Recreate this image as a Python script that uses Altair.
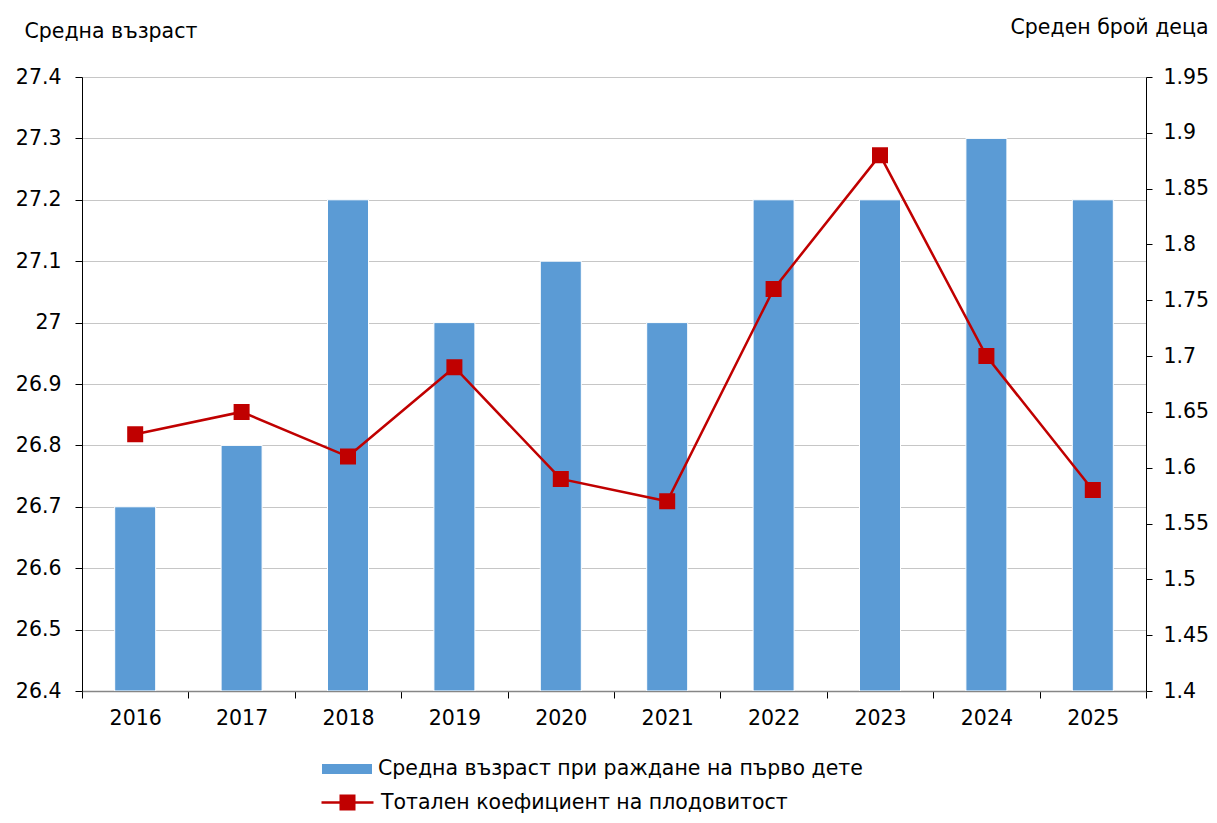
import altair as alt
import pandas as pd

years = ["2016", "2017", "2018", "2019", "2020", "2021", "2022", "2023", "2024", "2025"]
age = [26.7, 26.8, 27.2, 27.0, 27.1, 27.0, 27.2, 27.2, 27.3, 27.2]
tfr = [1.63, 1.65, 1.61, 1.69, 1.59, 1.57, 1.76, 1.88, 1.70, 1.58]
age_ticks = [26.4, 26.5, 26.6, 26.7, 26.8, 26.9, 27.0, 27.1, 27.2, 27.3, 27.4]
tfr_ticks = [1.4, 1.45, 1.5, 1.55, 1.6, 1.65, 1.7, 1.75, 1.8, 1.85, 1.9, 1.95]
series_age = "Средна възраст при раждане на първо дете"
series_tfr = "Тотален коефициент на плодовитост"
title_left = "Средна възраст"
title_right = "Среден брой деца"

df = pd.DataFrame({"year": years, "age": age, "tfr": tfr,
                   "s_age": series_age, "s_tfr": series_tfr})

FONT = "DejaVu Sans"
BLUE = "#5B9BD5"
RED = "#C00000"
FS = 20.5

base = alt.Chart(df).encode(
    x=alt.X("year:O", title=None,
            scale=alt.Scale(paddingInner=0, paddingOuter=0),
            axis=alt.Axis(labelAngle=0, tickBand="extent", labelFontSize=FS,
                          labelColor="black", labelPadding=10, tickSize=7,
                          tickColor="black", domainColor="#868686",
                          domainWidth=1.5, grid=False))
)

bars = base.mark_bar(size=41, stroke="white", strokeWidth=1, clip=True).encode(
    y=alt.Y("age:Q",
            scale=alt.Scale(domain=[26.4, 27.4], zero=False, nice=False),
            axis=alt.Axis(values=age_ticks, format="~g", title=title_left,
                          titleAngle=0, titleAlign="left", titleBaseline="middle",
                          titleX=-58, titleY=-46, titleFontSize=FS,
                          titleFontWeight="normal", titleColor="black",
                          labelFontSize=FS, labelColor="black", labelPadding=14,
                          tickSize=7, tickColor="black", domainColor="black",
                          grid=True, gridColor="#C6C6C6", gridWidth=1)),
    y2=alt.Y2(datum=26.4),
    fill=alt.Fill("s_age:N", scale=alt.Scale(range=[BLUE]),
                  legend=alt.Legend(title=None, orient="none", legendX=240, legendY=667,
                                    symbolType="M-1,-0.2H1V0.2H-1Z", symbolSize=2500,
                                    symbolStrokeWidth=0, labelFontSize=FS,
                                    labelColor="black", labelOffset=6, labelLimit=800)),
)

line = base.mark_line(
    color=RED, strokeWidth=2.5,
    point=alt.OverlayMarkDef(shape="square", size=196, filled=True, color=RED),
).encode(
    y=alt.Y("tfr:Q",
            scale=alt.Scale(domain=[1.4, 1.95], zero=False, nice=False),
            axis=alt.Axis(orient="right", values=tfr_ticks, format="~g",
                          title=title_right, titleAngle=0, titleAlign="right",
                          titleBaseline="middle", titleX=62, titleY=-50,
                          titleFontSize=FS, titleFontWeight="normal",
                          titleColor="black", labelFontSize=FS, labelColor="black",
                          labelPadding=11, tickSize=6, tickColor="black",
                          domainColor="black", grid=False)),
    stroke=alt.Stroke("s_tfr:N", scale=alt.Scale(range=[RED]),
                      legend=alt.Legend(title=None, orient="none", legendX=238, legendY=698,
                                        symbolType="M-1,0H1M-0.26,-0.26H0.26V0.26H-0.26Z",
                                        symbolSize=2704, symbolStrokeWidth=2.5,
                                        symbolFillColor=RED, symbolStrokeColor=RED,
                                        labelFontSize=FS, labelColor="black",
                                        labelOffset=6, labelLimit=800)),
)

chart = alt.layer(bars, line).resolve_scale(y="independent").properties(
    width=1064, height=614,
    autosize=alt.AutoSizeParams(type="none"),
    padding={"left": 74, "top": 69, "right": 63, "bottom": 124},
).configure(font=FONT).configure_view(stroke=None)

chart.save("out.html", embed_options={"renderer": "svg", "actions": False})
